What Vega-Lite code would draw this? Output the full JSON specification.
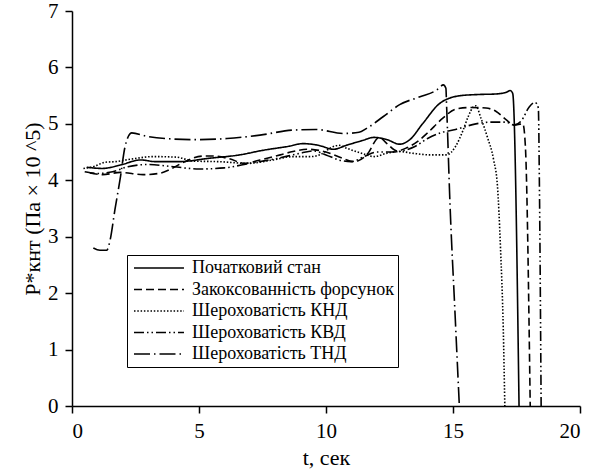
{
  "$schema": "https://vega.github.io/schema/vega-lite/v6.json",
  "width": 508,
  "height": 395,
  "autosize": "none",
  "padding": {"left": 72, "top": 11, "right": 12, "bottom": 65},
  "background": "white",
  "config": {
    "view": {"stroke": null},
    "font": "Liberation Serif",
    "axis": {
      "domainColor": "black", "domainWidth": 1.5,
      "tickColor": "black", "tickWidth": 1.5, "tickSize": 7,
      "labelColor": "black", "labelFontSize": 21, "labelFont": "Liberation Serif",
      "titleColor": "black", "titleFontSize": 22, "titleFont": "Liberation Serif", "titleFontWeight": "normal",
      "grid": false
    }
  },
  "data": {"values": [
    {"s": "Початковий стан", "t": 0.58, "p": 4.23},
    {"s": "Початковий стан", "t": 1.2, "p": 4.21},
    {"s": "Початковий стан", "t": 1.9, "p": 4.27},
    {"s": "Початковий стан", "t": 2.7, "p": 4.36},
    {"s": "Початковий стан", "t": 3.3, "p": 4.33},
    {"s": "Початковий стан", "t": 4.2, "p": 4.33},
    {"s": "Початковий стан", "t": 5.4, "p": 4.39},
    {"s": "Початковий стан", "t": 6.6, "p": 4.45},
    {"s": "Початковий стан", "t": 7.5, "p": 4.53},
    {"s": "Початковий стан", "t": 8.5, "p": 4.6},
    {"s": "Початковий стан", "t": 9.1, "p": 4.65},
    {"s": "Початковий стан", "t": 9.7, "p": 4.62},
    {"s": "Початковий стан", "t": 10.3, "p": 4.55},
    {"s": "Початковий стан", "t": 10.8, "p": 4.62},
    {"s": "Початковий стан", "t": 11.4, "p": 4.7},
    {"s": "Початковий стан", "t": 11.9, "p": 4.76},
    {"s": "Початковий стан", "t": 12.4, "p": 4.72},
    {"s": "Початковий стан", "t": 12.9, "p": 4.64},
    {"s": "Початковий стан", "t": 13.3, "p": 4.72},
    {"s": "Початковий стан", "t": 13.8, "p": 5.0},
    {"s": "Початковий стан", "t": 14.5, "p": 5.37},
    {"s": "Початковий стан", "t": 15.3, "p": 5.5},
    {"s": "Початковий стан", "t": 16.0, "p": 5.52},
    {"s": "Початковий стан", "t": 16.7, "p": 5.53},
    {"s": "Початковий стан", "t": 17.1, "p": 5.56},
    {"s": "Початковий стан", "t": 17.25, "p": 5.59},
    {"s": "Початковий стан", "t": 17.35, "p": 5.54},
    {"s": "Початковий стан", "t": 17.6, "p": 0},

    {"s": "Закоксованність форсунок", "t": 0.7, "p": 4.13},
    {"s": "Закоксованність форсунок", "t": 1.2, "p": 4.1},
    {"s": "Закоксованність форсунок", "t": 1.9, "p": 4.14},
    {"s": "Закоксованність форсунок", "t": 2.8, "p": 4.1},
    {"s": "Закоксованність форсунок", "t": 3.4, "p": 4.12},
    {"s": "Закоксованність форсунок", "t": 3.9, "p": 4.2},
    {"s": "Закоксованність форсунок", "t": 4.3, "p": 4.3},
    {"s": "Закоксованність форсунок", "t": 5.2, "p": 4.43},
    {"s": "Закоксованність форсунок", "t": 5.6, "p": 4.43},
    {"s": "Закоксованність форсунок", "t": 6.2, "p": 4.38},
    {"s": "Закоксованність форсунок", "t": 6.8, "p": 4.3},
    {"s": "Закоксованність форсунок", "t": 7.4, "p": 4.36},
    {"s": "Закоксованність форсунок", "t": 8.2, "p": 4.45},
    {"s": "Закоксованність форсунок", "t": 8.7, "p": 4.51},
    {"s": "Закоксованність форсунок", "t": 9.3, "p": 4.55},
    {"s": "Закоксованність форсунок", "t": 10.0, "p": 4.5},
    {"s": "Закоксованність форсунок", "t": 10.6, "p": 4.4},
    {"s": "Закоксованність форсунок", "t": 11.1, "p": 4.33},
    {"s": "Закоксованність форсунок", "t": 11.6, "p": 4.45},
    {"s": "Закоксованність форсунок", "t": 12.1, "p": 4.76},
    {"s": "Закоксованність форсунок", "t": 12.4, "p": 4.65},
    {"s": "Закоксованність форсунок", "t": 12.8, "p": 4.52},
    {"s": "Закоксованність форсунок", "t": 13.2, "p": 4.58},
    {"s": "Закоксованність форсунок", "t": 13.7, "p": 4.72},
    {"s": "Закоксованність форсунок", "t": 14.0, "p": 4.84},
    {"s": "Закоксованність форсунок", "t": 14.6, "p": 5.1},
    {"s": "Закоксованність форсунок", "t": 15.1, "p": 5.26},
    {"s": "Закоксованність форсунок", "t": 15.7, "p": 5.29},
    {"s": "Закоксованність форсунок", "t": 16.3, "p": 5.28},
    {"s": "Закоксованність форсунок", "t": 16.7, "p": 5.22},
    {"s": "Закоксованність форсунок", "t": 17.1, "p": 5.07},
    {"s": "Закоксованність форсунок", "t": 17.4, "p": 4.98},
    {"s": "Закоксованність форсунок", "t": 17.75, "p": 5.0},
    {"s": "Закоксованність форсунок", "t": 17.85, "p": 4.6},
    {"s": "Закоксованність форсунок", "t": 18.04, "p": 0},

    {"s": "Шероховатість КНД", "t": 0.45, "p": 4.21},
    {"s": "Шероховатість КНД", "t": 0.9, "p": 4.25},
    {"s": "Шероховатість КНД", "t": 1.3, "p": 4.32},
    {"s": "Шероховатість КНД", "t": 1.7, "p": 4.33},
    {"s": "Шероховатість КНД", "t": 2.4, "p": 4.38},
    {"s": "Шероховатість КНД", "t": 3.2, "p": 4.42},
    {"s": "Шероховатість КНД", "t": 4.1, "p": 4.41},
    {"s": "Шероховатість КНД", "t": 4.8, "p": 4.34},
    {"s": "Шероховатість КНД", "t": 5.8, "p": 4.33},
    {"s": "Шероховатість КНД", "t": 6.9, "p": 4.3},
    {"s": "Шероховатість КНД", "t": 7.9, "p": 4.36},
    {"s": "Шероховатість КНД", "t": 8.7, "p": 4.42},
    {"s": "Шероховатість КНД", "t": 9.4, "p": 4.42},
    {"s": "Шероховатість КНД", "t": 9.8, "p": 4.46},
    {"s": "Шероховатість КНД", "t": 10.2, "p": 4.58},
    {"s": "Шероховатість КНД", "t": 10.5, "p": 4.62},
    {"s": "Шероховатість КНД", "t": 10.8, "p": 4.57},
    {"s": "Шероховатість КНД", "t": 11.4, "p": 4.48},
    {"s": "Шероховатість КНД", "t": 11.9, "p": 4.42},
    {"s": "Шероховатість КНД", "t": 12.4, "p": 4.48},
    {"s": "Шероховатість КНД", "t": 12.9, "p": 4.51},
    {"s": "Шероховатість КНД", "t": 13.4, "p": 4.48},
    {"s": "Шероховатість КНД", "t": 14.1, "p": 4.45},
    {"s": "Шероховатість КНД", "t": 14.75, "p": 4.45},
    {"s": "Шероховатість КНД", "t": 15.1, "p": 4.6},
    {"s": "Шероховатість КНД", "t": 15.4, "p": 4.89},
    {"s": "Шероховатість КНД", "t": 15.6, "p": 5.13},
    {"s": "Шероховатість КНД", "t": 15.8, "p": 5.3},
    {"s": "Шероховатість КНД", "t": 15.9, "p": 5.32},
    {"s": "Шероховатість КНД", "t": 16.1, "p": 5.1},
    {"s": "Шероховатість КНД", "t": 16.35, "p": 4.77},
    {"s": "Шероховатість КНД", "t": 16.6, "p": 4.36},
    {"s": "Шероховатість КНД", "t": 16.75, "p": 3.9},
    {"s": "Шероховатість КНД", "t": 16.87, "p": 2.8},
    {"s": "Шероховатість КНД", "t": 16.98, "p": 1.35},
    {"s": "Шероховатість КНД", "t": 17.04, "p": 0},

    {"s": "Шероховатість КВД", "t": 0.5, "p": 4.15},
    {"s": "Шероховатість КВД", "t": 1.0, "p": 4.12},
    {"s": "Шероховатість КВД", "t": 1.6, "p": 4.15},
    {"s": "Шероховатість КВД", "t": 2.2, "p": 4.24},
    {"s": "Шероховатість КВД", "t": 3.0, "p": 4.28},
    {"s": "Шероховатість КВД", "t": 4.0, "p": 4.24},
    {"s": "Шероховатість КВД", "t": 5.0, "p": 4.2},
    {"s": "Шероховатість КВД", "t": 6.0, "p": 4.22},
    {"s": "Шероховатість КВД", "t": 7.0, "p": 4.3},
    {"s": "Шероховатість КВД", "t": 8.0, "p": 4.38},
    {"s": "Шероховатість КВД", "t": 9.0, "p": 4.48},
    {"s": "Шероховатість КВД", "t": 9.5, "p": 4.52},
    {"s": "Шероховатість КВД", "t": 10.0, "p": 4.45},
    {"s": "Шероховатість КВД", "t": 10.5, "p": 4.36},
    {"s": "Шероховатість КВД", "t": 11.0, "p": 4.33},
    {"s": "Шероховатість КВД", "t": 11.5, "p": 4.42},
    {"s": "Шероховатість КВД", "t": 12.0, "p": 4.5},
    {"s": "Шероховатість КВД", "t": 12.6, "p": 4.5},
    {"s": "Шероховатість КВД", "t": 13.0, "p": 4.52},
    {"s": "Шероховатість КВД", "t": 13.5, "p": 4.6},
    {"s": "Шероховатість КВД", "t": 14.0, "p": 4.74},
    {"s": "Шероховатість КВД", "t": 14.5, "p": 4.84},
    {"s": "Шероховатість КВД", "t": 15.1, "p": 4.9},
    {"s": "Шероховатість КВД", "t": 15.9, "p": 5.0},
    {"s": "Шероховатість КВД", "t": 16.5, "p": 5.03},
    {"s": "Шероховатість КВД", "t": 17.1, "p": 5.03},
    {"s": "Шероховатість КВД", "t": 17.4, "p": 4.98},
    {"s": "Шероховатість КВД", "t": 17.7, "p": 5.06},
    {"s": "Шероховатість КВД", "t": 18.0, "p": 5.3},
    {"s": "Шероховатість КВД", "t": 18.23, "p": 5.38},
    {"s": "Шероховатість КВД", "t": 18.36, "p": 5.28},
    {"s": "Шероховатість КВД", "t": 18.4, "p": 4.0},
    {"s": "Шероховатість КВД", "t": 18.47, "p": 0},

    {"s": "Шероховатість ТНД", "t": 0.84, "p": 2.8},
    {"s": "Шероховатість ТНД", "t": 1.1, "p": 2.76},
    {"s": "Шероховатість ТНД", "t": 1.37, "p": 2.76},
    {"s": "Шероховатість ТНД", "t": 1.5, "p": 2.94},
    {"s": "Шероховатість ТНД", "t": 1.69, "p": 3.48},
    {"s": "Шероховатість ТНД", "t": 1.89, "p": 4.01},
    {"s": "Шероховатість ТНД", "t": 2.09, "p": 4.6},
    {"s": "Шероховатість ТНД", "t": 2.22, "p": 4.78},
    {"s": "Шероховатість ТНД", "t": 2.35, "p": 4.84},
    {"s": "Шероховатість ТНД", "t": 2.94, "p": 4.78},
    {"s": "Шероховатість ТНД", "t": 4.0, "p": 4.73},
    {"s": "Шероховатість ТНД", "t": 4.8, "p": 4.72},
    {"s": "Шероховатість ТНД", "t": 6.1, "p": 4.74},
    {"s": "Шероховатість ТНД", "t": 7.4, "p": 4.8},
    {"s": "Шероховатість ТНД", "t": 8.7, "p": 4.89},
    {"s": "Шероховатість ТНД", "t": 9.6, "p": 4.9},
    {"s": "Шероховатість ТНД", "t": 10.7, "p": 4.83},
    {"s": "Шероховатість ТНД", "t": 11.3, "p": 4.85},
    {"s": "Шероховатість ТНД", "t": 11.6, "p": 4.92},
    {"s": "Шероховатість ТНД", "t": 12.26, "p": 5.13},
    {"s": "Шероховатість ТНД", "t": 12.9, "p": 5.34},
    {"s": "Шероховатість ТНД", "t": 13.7, "p": 5.48},
    {"s": "Шероховатість ТНД", "t": 14.36, "p": 5.6},
    {"s": "Шероховатість ТНД", "t": 14.62, "p": 5.69},
    {"s": "Шероховатість ТНД", "t": 14.72, "p": 5.63},
    {"s": "Шероховатість ТНД", "t": 14.75, "p": 5.3},
    {"s": "Шероховатість ТНД", "t": 14.88, "p": 3.6},
    {"s": "Шероховатість ТНД", "t": 15.08, "p": 1.64},
    {"s": "Шероховатість ТНД", "t": 15.25, "p": 0}
  ]},
  "mark": {"type": "line", "interpolate": "monotone", "stroke": "black", "strokeWidth": 1.6},
  "encoding": {
    "x": {
      "field": "t", "type": "quantitative",
      "scale": {"domain": [0, 20], "nice": false, "zero": false},
      "axis": {"values": [0, 5, 10, 15, 20], "title": "t, сек", "labelPadding": 7, "titlePadding": 6}
    },
    "y": {
      "field": "p", "type": "quantitative",
      "scale": {"domain": [0, 7], "nice": false},
      "axis": {"values": [0, 1, 2, 3, 4, 5, 6, 7], "title": "P*кнт (Па × 10 ^5)", "labelPadding": 7, "titlePadding": 3}
    },
    "strokeDash": {
      "field": "s", "type": "nominal",
      "scale": {
        "domain": ["Початковий стан", "Закоксованність форсунок", "Шероховатість КНД", "Шероховатість КВД", "Шероховатість ТНД"],
        "range": [[1, 0], [8, 4], [1.5, 1.8], [10, 3, 1.5, 3, 1.5, 3], [16, 4, 1.5, 4]]
      },
      "legend": {
        "title": null,
        "orient": "none",
        "legendX": 55,
        "legendY": 244,
        "strokeColor": "black",
        "fillColor": "white",
        "padding": 4,
        "symbolType": "M-1,0H7.33",
        "symbolSize": 144,
        "symbolStrokeWidth": 1.6,
        "symbolStrokeColor": "black",
        "labelFont": "Liberation Serif",
        "labelFontSize": 18,
        "labelColor": "black",
        "labelOffset": 43,
        "rowPadding": 3.5,
        "labelLimit": 400
      }
    }
  }
}
